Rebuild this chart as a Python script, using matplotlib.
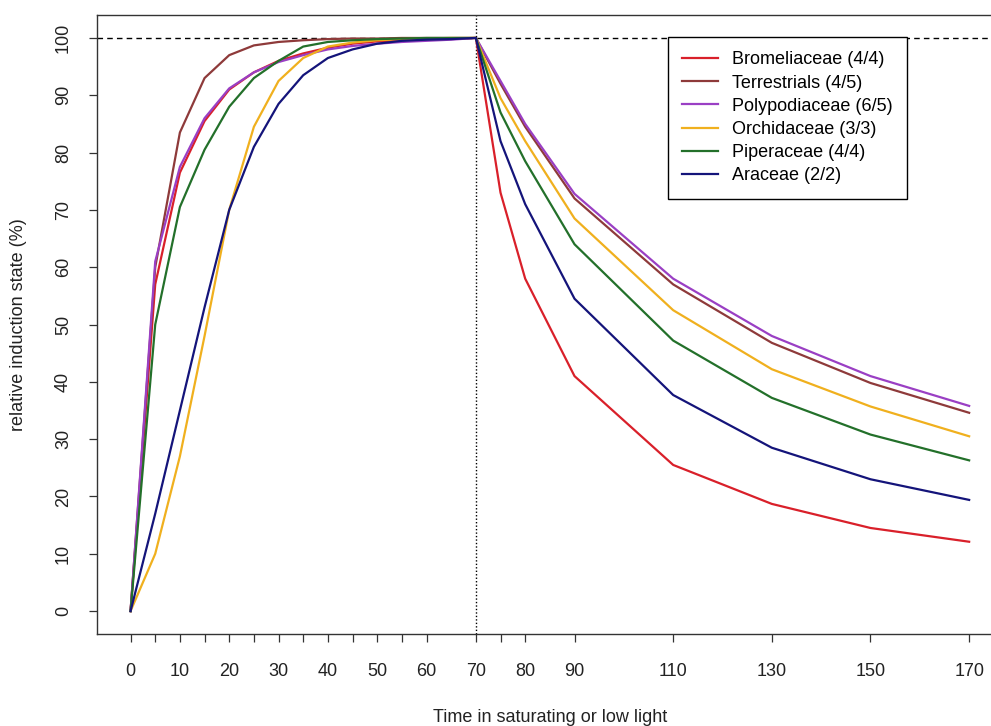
import numpy as np
from matplotlib import pyplot as plt

plt.rcParams['font.family'] = ['Liberation Sans', 'DejaVu Sans']

# time points (induction up to 70, then decay)
time = [0, 5, 10, 15, 20, 25, 30, 35, 40, 45, 50, 55, 60, 65, 70,
        75, 80, 90, 110, 130, 150, 170]

bromeliaceae = [0, 57, 76.5, 85.5, 91, 94, 96, 97.3, 98.3, 99, 99.4, 99.6, 99.8, 99.9, 100,
                73, 58, 41, 25.5, 18.7, 14.5, 12.1]
terrestrials = [0, 60, 83.5, 93, 97, 98.7, 99.3, 99.6, 99.8, 99.9, 99.9, 100, 100, 100, 100,
                92, 84.5, 72, 57, 46.8, 39.8, 34.6]
polypodiaceae = [0, 61, 77.5, 86, 91.2, 94, 95.8, 97, 98, 98.6, 99, 99.3, 99.5, 99.7, 100,
                 92.5, 85, 72.8, 58, 48, 41, 35.8]
orchidaceae = [0, 10, 27, 48, 70, 84.5, 92.5, 96.5, 98.5, 99.2, 99.6, 99.8, 99.9, 100, 100,
               89.5, 82, 68.5, 52.5, 42.2, 35.7, 30.5]
piperaceae = [0, 50, 70.5, 80.5, 88, 93, 96, 98.5, 99.3, 99.6, 99.8, 99.9, 100, 100, 100,
              87, 78.5, 64, 47.2, 37.2, 30.8, 26.3]
araceae = [0, 17, 35, 53, 70, 81, 88.5, 93.5, 96.5, 98, 99, 99.5, 99.7, 99.8, 100,
           82, 71, 54.5, 37.7, 28.5, 23, 19.4]

series = [
	('Bromeliaceae (4/4)', bromeliaceae, '#d9202a'),
	('Terrestrials (4/5)', terrestrials, '#8e3a3a'),
	('Polypodiaceae (6/5)', polypodiaceae, '#9a3fc4'),
	('Orchidaceae (3/3)', orchidaceae, '#f0b01e'),
	('Piperaceae (4/4)', piperaceae, '#23702a'),
	('Araceae (2/2)', araceae, '#14147a'),
]

xticks = [0, 5, 10, 15, 20, 25, 30, 35, 40, 45, 50, 55, 60, 70, 75, 80, 90, 110, 130, 150, 170]
xlabels = [str(t) if (t % 10 == 0) else '' for t in xticks]
yticks = [0, 10, 20, 30, 40, 50, 60, 70, 80, 90, 100]

fig = plt.figure(figsize=(9.91, 7.26), dpi=100)
ax = fig.add_axes([0.0979, 0.1267, 0.9139, 0.8526])

ax.axhline(100, color='black', lw=1, ls=(0, (4, 3)))
ax.axvline(70, color='black', lw=1, ls=(0, (1, 1.5)))

for name, vals, col in series:
	ax.plot(time, vals, color=col, lw=1.6, label=name)

ax.set_xlim(-6.8, 176.8)
ax.set_ylim(-4, 104)
ax.set_xticks(xticks)
ax.set_xticklabels(xlabels)
ax.set_yticks(yticks)
ax.set_yticklabels([str(v) for v in yticks], rotation=90, va='center')
ax.tick_params(axis='both', direction='out', length=6, width=0.9, color='#333333',
               labelsize=13, labelcolor='#222222')
ax.tick_params(axis='x', pad=15)
ax.tick_params(axis='y', pad=12)
for sp in ax.spines.values():
	sp.set_color('#333333')
	sp.set_linewidth(1)

ax.set_xlabel('Time in saturating or low light', fontsize=13, color='#222222')
ax.xaxis.set_label_coords(0.5, -0.121)
ax.set_ylabel('relative induction state (%)', fontsize=13, color='#222222')
ax.yaxis.set_label_coords(-0.077, 0.5)

leg = ax.legend(loc='upper left', bbox_to_anchor=(0.630, 0.9645), borderaxespad=0,
                fontsize=13, fancybox=False, framealpha=1, edgecolor='black',
                handlelength=2.0, handletextpad=0.75, labelspacing=0.34, borderpad=0.8)
leg.get_frame().set_linewidth(1)

fig.savefig('out.png', dpi=100)
